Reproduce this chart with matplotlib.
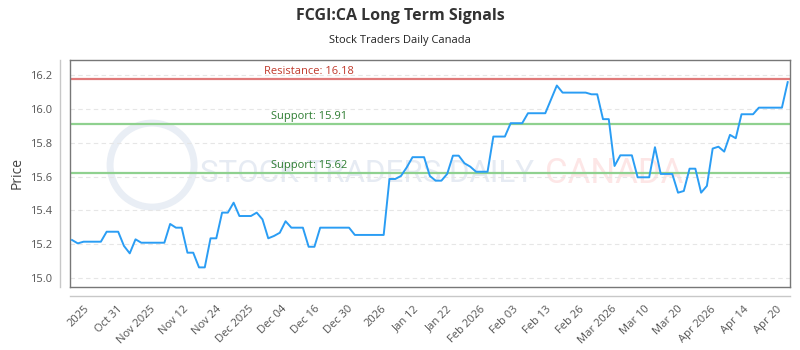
import matplotlib.pyplot as plt
import numpy as np
from matplotlib.lines import Line2D
from matplotlib.patches import Ellipse

plt.rcParams['font.family'] = ['Open Sans', 'DejaVu Sans']

# closing prices, one per trading day
prices = [
    15.225, 15.205, 15.215, 15.215, 15.215, 15.215, 15.274, 15.274, 15.274, 15.19,
    15.146, 15.229, 15.209, 15.209, 15.209, 15.209, 15.209, 15.32, 15.298, 15.298,
    15.15, 15.15, 15.063, 15.063, 15.235, 15.235, 15.387, 15.387, 15.446, 15.367,
    15.367, 15.367, 15.387, 15.347, 15.235, 15.249, 15.268, 15.336, 15.298, 15.298,
    15.298, 15.185, 15.185, 15.298, 15.298, 15.298, 15.298, 15.298, 15.298, 15.255,
    15.255, 15.255, 15.255, 15.255, 15.255, 15.586, 15.586, 15.604, 15.655, 15.715,
    15.715, 15.715, 15.604, 15.576, 15.576, 15.616, 15.724, 15.724, 15.679, 15.659,
    15.629, 15.629, 15.629, 15.837, 15.837, 15.837, 15.916, 15.916, 15.916, 15.975,
    15.975, 15.975, 15.975, 16.057, 16.139, 16.097, 16.097, 16.097, 16.097, 16.097,
    16.087, 16.087, 15.94, 15.94, 15.663, 15.726, 15.726, 15.726, 15.596, 15.596,
    15.596, 15.774, 15.616, 15.616, 15.616, 15.505, 15.515, 15.647, 15.647, 15.505,
    15.545, 15.766, 15.777, 15.748, 15.847, 15.827, 15.969, 15.969, 15.969, 16.008,
    16.008, 16.008, 16.008, 16.008, 16.159,
]

tick_labels = ['2025', 'Oct 31', 'Nov 2025', 'Nov 12', 'Nov 24', 'Dec 2025', 'Dec 04',
               'Dec 16', 'Dec 30', '2026', 'Jan 12', 'Jan 22', 'Feb 2026', 'Feb 03',
               'Feb 13', 'Feb 26', 'Mar 2026', 'Mar 10', 'Mar 20', 'Apr 2026',
               'Apr 14', 'Apr 20']

resistance = 16.18
supports = [15.91, 15.62]

fig = plt.figure(figsize=(8, 3.5), dpi=100)
ax = fig.add_axes([0.0875, 0.18, 0.9, 0.6486])

x = np.arange(len(prices))
ax.plot(x, prices, color='#2a9df4', lw=1.4, zorder=3)

# signal levels
ax.axhline(resistance, color='#e07a7a', lw=1.6, zorder=2)
ax.text(41, resistance + 0.012, 'Resistance: %.2f' % resistance, color='#c0392b',
        fontsize=8, ha='center', va='bottom')
for s in supports:
    ax.axhline(s, color='#8fd18f', lw=1.6, zorder=2)
    ax.text(41, s + 0.012, 'Support: %.2f' % s, color='#2e7d32',
            fontsize=8, ha='center', va='bottom')

# watermark
ax.text(0.18, 0.5, 'STOCK TRADERS DAILY', transform=ax.transAxes, fontsize=22.5,
        color='#e6ebf3', ha='left', va='center', family='Roboto', zorder=1)
ax.text(0.66, 0.5, 'CANADA', transform=ax.transAxes, fontsize=25,
        color='#fde6e6', ha='left', va='center', family='Roboto', zorder=1)
logo = Ellipse((0.114, 0.537), 84 / 720, 84 / 227, transform=ax.transAxes,
               fill=False, ec='#e9eef5', lw=5, zorder=1)
ax.add_patch(logo)

ax.set_xlim(-0.35, 124.4)
ax.set_ylim(14.947, 16.29)
ax.set_yticks([15.0, 15.2, 15.4, 15.6, 15.8, 16.0, 16.2])
ax.set_yticklabels(['15.0', '15.2', '15.4', '15.6', '15.8', '16.0', '16.2'])
ax.set_xticks(np.linspace(3.4, 123.4, len(tick_labels)))
ax.set_xticklabels(tick_labels, rotation=45, ha='right')
ax.tick_params(axis='both', length=0, labelsize=8, colors='#555555')
ax.tick_params(axis='y', pad=13)
ax.tick_params(axis='x', pad=12)
ax.grid(axis='y', color='#e6e6e6', ls=(0, (4, 3)), lw=0.8)
for sp in ax.spines.values():
    sp.set_color('#777777')
    sp.set_linewidth(1)
ax.set_ylabel('Price', fontsize=10, color='#444444', labelpad=4)

# offset axis lines
fig.add_artist(Line2D([60 / 800, 60 / 800], [1 - 60 / 350, 1 - 287 / 350],
                      color='#c8c8c8', lw=1))
fig.add_artist(Line2D([70 / 800, 790 / 800], [1 - 296 / 350, 1 - 296 / 350],
                      color='#c8c8c8', lw=1))

fig.text(0.5, 0.955, 'FCGI:CA Long Term Signals', ha='center', va='center',
         fontsize=11.5, fontweight='bold', color='#333333')
fig.text(0.5, 0.885, 'Stock Traders Daily Canada', ha='center', va='center',
         fontsize=8, color='#222222')

fig.savefig('out.png', dpi=100)
